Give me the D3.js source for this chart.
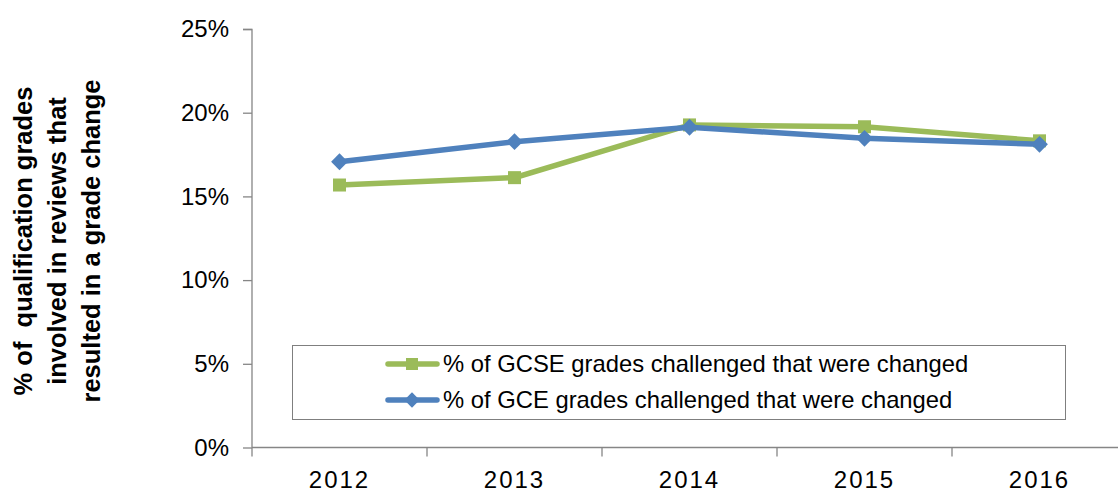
<!DOCTYPE html>
<html>
<head>
<meta charset="utf-8">
<script src="https://cdn.jsdelivr.net/npm/d3@7"></script>
<style>
  body { margin: 0; background: #fff; }
  text { font-family: "Liberation Sans", Arial, sans-serif; fill: #000; }
</style>
</head>
<body>
<div id="chart"></div>
<script>
// data
var years = ["2012", "2013", "2014", "2015", "2016"];
var gcseValues = [0.1568, 0.1612, 0.1927, 0.1916, 0.1832];
var gceValues = [0.1707, 0.1827, 0.1913, 0.1847, 0.1811];
var yTicks = [0, 0.05, 0.10, 0.15, 0.20, 0.25];
var seriesNames = ["% of GCSE grades challenged that were changed", "% of GCE grades challenged that were changed"];
var titleLines = ["% of  qualification grades", "involved in reviews that", "resulted in a grade change"];

var svgWidth = 1118;
var svgHeight = 491;

var margin = {top: 29, left: 252, right: -9, bottom: 43.5};
var width = svgWidth - margin.left - margin.right;
var height = svgHeight - margin.top - margin.bottom;

var svg = d3.select("#chart").append("svg")
    .attr("width", svgWidth)
    .attr("height", svgHeight);

var chartGroup = svg.append("g")
    .attr("transform", `translate(${margin.left}, ${margin.top})`);

// scales
var xScale = d3.scaleBand().domain(years).range([0, width]);
var yScale = d3.scaleLinear().domain([0, 0.25]).range([height, 0]);

var axisColor = "#868686";

// y axis
var yAxis = d3.axisLeft(yScale)
    .tickValues(yTicks)
    .tickFormat(d3.format(".0%"))
    .tickSize(9)
    .tickPadding(14);

var yG = chartGroup.append("g").call(yAxis);
yG.select(".domain").attr("stroke", axisColor).attr("stroke-width", 1.3).attr("d", `M-9,0.5H0V${height}`);
yG.selectAll(".tick line").attr("stroke", axisColor).attr("stroke-width", 1.3);
yG.selectAll(".tick text").attr("font-size", "24px").attr("fill", "#000")
    .attr("font-family", "Liberation Sans, Arial, sans-serif");

// x axis with ticks between categories
var xAxisG = chartGroup.append("g").attr("transform", `translate(0, ${height})`);
xAxisG.append("line")
    .attr("x1", 0).attr("x2", width)
    .attr("stroke", axisColor).attr("stroke-width", 1.3);
xAxisG.selectAll(".xtick")
    .data(years)
    .enter()
    .append("line")
    .attr("x1", d => xScale(d)).attr("x2", d => xScale(d))
    .attr("y1", 0).attr("y2", 9)
    .attr("stroke", axisColor).attr("stroke-width", 1.3);
xAxisG.selectAll(".xlabel")
    .data(years)
    .enter()
    .append("text")
    .attr("x", d => xScale(d) + xScale.bandwidth() / 2)
    .attr("y", 40)
    .attr("text-anchor", "middle")
    .attr("font-size", "24px")
    .attr("letter-spacing", "2px")
    .text(d => d);

// lines
var gcseColor = "#9BBB59";
var gceColor = "#4F81BD";

var line = d3.line()
    .x((d, i) => xScale(years[i]) + xScale.bandwidth() / 2)
    .y(d => yScale(d));

chartGroup.append("path")
    .datum(gcseValues)
    .attr("d", line)
    .attr("fill", "none")
    .attr("stroke", gcseColor)
    .attr("stroke-width", 5.5);

chartGroup.selectAll(".gcseMark")
    .data(gcseValues)
    .enter()
    .append("rect")
    .attr("x", (d, i) => xScale(years[i]) + xScale.bandwidth() / 2 - 6.5)
    .attr("y", d => yScale(d) - 6.5)
    .attr("width", 13)
    .attr("height", 13)
    .attr("fill", gcseColor);

chartGroup.append("path")
    .datum(gceValues)
    .attr("d", line)
    .attr("fill", "none")
    .attr("stroke", gceColor)
    .attr("stroke-width", 5.5);

var diamond = d3.symbol().type(d3.symbolDiamond2).size(180);

chartGroup.selectAll(".gceMark")
    .data(gceValues)
    .enter()
    .append("path")
    .attr("d", diamond)
    .attr("transform", (d, i) => `translate(${xScale(years[i]) + xScale.bandwidth() / 2}, ${yScale(d)})`)
    .attr("fill", gceColor);

// legend
var legend = svg.append("g");
legend.append("rect")
    .attr("x", 292.5).attr("y", 345.5)
    .attr("width", 773).attr("height", 74)
    .attr("fill", "#fff")
    .attr("stroke", "#7f7f7f")
    .attr("stroke-width", 1);

var legendRows = [
  {name: seriesNames[0], color: gcseColor, marker: "square", y: 364},
  {name: seriesNames[1], color: gceColor, marker: "diamond", y: 400}
];

legendRows.forEach(function(r) {
  legend.append("line")
      .attr("x1", 388).attr("x2", 437)
      .attr("y1", r.y).attr("y2", r.y)
      .attr("stroke", r.color).attr("stroke-width", 5.5)
      .attr("stroke-linecap", "round");
  if (r.marker == "square") {
    legend.append("rect")
        .attr("x", 406).attr("y", r.y - 6)
        .attr("width", 12).attr("height", 12)
        .attr("fill", r.color);
  } else {
    legend.append("path")
        .attr("d", d3.symbol().type(d3.symbolDiamond2).size(150))
        .attr("transform", `translate(412, ${r.y})`)
        .attr("fill", r.color);
  }
  legend.append("text")
      .attr("x", 443)
      .attr("y", r.y + 8)
      .attr("font-size", "23.8px")
      .text(r.name);
});

// y axis title
var yLabel = svg.append("g")
    .attr("transform", "translate(58, 241) rotate(-90)");

yLabel.selectAll("text")
    .data(titleLines)
    .enter()
    .append("text")
    .attr("x", 0)
    .attr("y", (d, i) => (i - 1) * 34 + 8)
    .attr("text-anchor", "middle")
    .attr("font-size", "25.5px")
    .attr("font-weight", "bold")
    .attr("xml:space", "preserve")
    .style("white-space", "pre")
    .text(d => d);
</script>
</body>
</html>
